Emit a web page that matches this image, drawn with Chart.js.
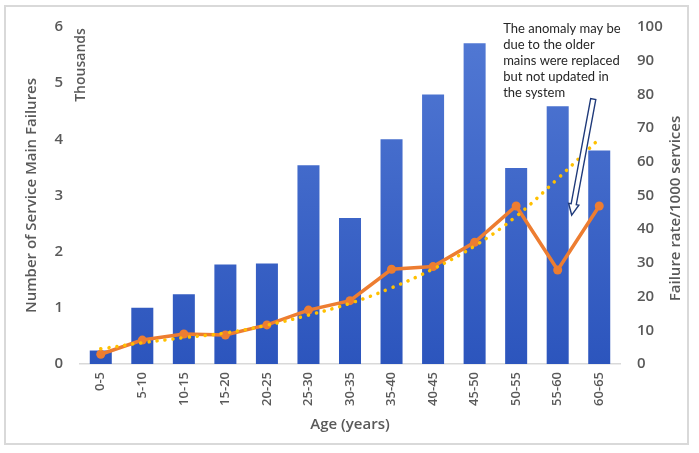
<!DOCTYPE html>
<html>
<head>
<meta charset="utf-8">
<script src="https://cdn.jsdelivr.net/npm/chart.js@4/dist/chart.umd.min.js"></script>
<style>
html,body{margin:0;padding:0;background:#fff;}
#wrap{width:699px;height:453px;}
</style>
</head>
<body>
<div id="wrap"><canvas id="c" width="699" height="453"></canvas></div>
<script>
// ---- data ----
const categories = ['0-5','5-10','10-15','15-20','20-25','25-30','30-35','35-40','40-45','45-50','50-55','55-60','60-65'];
const failuresThousands = [0.24, 1.0, 1.24, 1.77, 1.79, 3.54, 2.6, 4.0, 4.8, 5.71, 3.49, 4.59, 3.8];
const failureRate = [2.9, 7.1, 8.9, 8.6, 11.6, 16, 18.8, 28.1, 28.9, 36.1, 46.9, 27.9, 46.9];
const trendRate = [4.5, 6.3, 7.8, 9.2, 11.5, 14.5, 18, 22.6, 28.2, 35, 43.8, 55, 66.8];
const leftTicks = [0, 1, 2, 3, 4, 5, 6];
const rightTicks = [0, 10, 20, 30, 40, 50, 60, 70, 80, 90, 100];
const noteLines = ['The anomaly may be', 'due to the older', 'mains were replaced', 'but not updated in', 'the system'];

const grey = '#595959';
const FAM = '"Open Sans", sans-serif';
const tickFont = {family: FAM, size: 15, weight: '600'};

function barGradient(ctx) {
  const chart = ctx.chart;
  const a = chart.chartArea;
  if (!a) return '#3c63c8';
  const g = chart.ctx.createLinearGradient(0, a.top, 0, a.bottom);
  g.addColorStop(0, '#5279d4');
  g.addColorStop(1, '#2c55bd');
  return g;
}

const decor = {
  id: 'decor',
  beforeDraw(chart) {
    const c = chart.ctx;
    c.save();
    c.fillStyle = '#fff';
    c.fillRect(0, 0, chart.width, chart.height);
    c.strokeStyle = '#d9d9d9';
    c.lineWidth = 2;
    c.strokeRect(5, 6, 683, 438);
    c.restore();
  },
  afterDraw(chart) {
    const c = chart.ctx;
    const x = chart.scales.x, y1 = chart.scales.y1, y = chart.scales.y;
    c.save();
    // "Thousands" display-unit label
    c.fillStyle = grey;
    c.font = '600 14px ' + FAM;
    c.textAlign = 'center';
    c.textBaseline = 'middle';
    c.translate(y.right + 1, y.getPixelForValue(6) + 38);
    c.rotate(-Math.PI / 2);
    c.fillText('Thousands', 0, 0);
    c.restore();

    // right axis title (reads bottom to top)
    c.save();
    c.fillStyle = grey;
    c.font = '600 15px ' + FAM;
    c.textAlign = 'center';
    c.textBaseline = 'middle';
    c.translate(676, (y1.top + y1.bottom) / 2 + 13);
    c.rotate(-Math.PI / 2);
    c.fillText('Failure rate/1000 services', 0, 0);
    c.restore();

    // note text
    c.save();
    c.fillStyle = '#262626';
    c.font = '13px Lato, sans-serif';
    c.textAlign = 'left';
    c.textBaseline = 'middle';
    const tx = x.getPixelForValue(10) - 13;
    noteLines.forEach((t, i) => c.fillText(t, tx, 29 + i * 16));
    c.restore();

    // hollow arrow
    const tail = {x: x.getPixelForValue(12) - 6, y: y1.getPixelForValue(78.6)};
    const tip = {x: x.getPixelForValue(11) + 14, y: y1.getPixelForValue(44.2)};
    const dx = tip.x - tail.x, dy = tip.y - tail.y;
    const L = Math.hypot(dx, dy);
    const ux = dx / L, uy = dy / L;
    const nx = -uy, ny = ux;
    const sw = 2.6, hw = 5.2, hl = 11;
    const bx = tip.x - ux * hl, by = tip.y - uy * hl;
    c.save();
    c.beginPath();
    c.moveTo(tail.x + nx * sw, tail.y + ny * sw);
    c.lineTo(bx + nx * sw, by + ny * sw);
    c.lineTo(bx + nx * hw, by + ny * hw);
    c.lineTo(tip.x, tip.y);
    c.lineTo(bx - nx * hw, by - ny * hw);
    c.lineTo(bx - nx * sw, by - ny * sw);
    c.lineTo(tail.x - nx * sw, tail.y - ny * sw);
    c.closePath();
    c.fillStyle = '#ffffff';
    c.fill();
    c.strokeStyle = '#1f3a7a';
    c.lineWidth = 1.4;
    c.stroke();
    c.restore();
  }
};

new Chart(document.getElementById('c'), {
  data: {
    labels: categories,
    datasets: [
      {
        type: 'line',
        label: 'Trend',
        data: trendRate,
        yAxisID: 'y1',
        borderColor: '#ffc000',
        borderWidth: 3.5,
        borderDash: [0.1, 8],
        borderCapStyle: 'round',
        pointRadius: 0,
        tension: 0.4,
        fill: false,
        order: 0
      },
      {
        type: 'line',
        label: 'Failure rate',
        data: failureRate,
        yAxisID: 'y1',
        borderColor: '#ed7d31',
        backgroundColor: '#ed7d31',
        borderWidth: 3.5,
        pointRadius: 4.5,
        pointBorderWidth: 0,
        pointBackgroundColor: '#ed7d31',
        pointBorderColor: '#ed7d31',
        tension: 0,
        fill: false,
        order: 1
      },
      {
        type: 'bar',
        label: 'Failures',
        data: failuresThousands,
        yAxisID: 'y',
        backgroundColor: barGradient,
        barPercentage: 0.53,
        categoryPercentage: 1,
        order: 2
      }
    ]
  },
  options: {
    responsive: false,
    animation: false,
    events: [],
    layout: {padding: {top: 27, left: 0, right: 0, bottom: 0}},
    plugins: {legend: {display: false}, tooltip: {enabled: false}},
    scales: {
      x: {
        offset: true,
        grid: {display: false, drawTicks: false},
        border: {display: true, color: '#d9d9d9', width: 1.5},
        ticks: {
          color: grey,
          font: {family: FAM, size: 13, weight: '600'},
          minRotation: 90,
          maxRotation: 90,
          padding: 8,
          autoSkip: false
        },
        title: {
          display: true,
          text: 'Age (years)',
          color: grey,
          font: {family: FAM, size: 15, weight: '600'},
          padding: {top: 0, bottom: 19}
        },
        afterFit(s) { s.height = 89; }
      },
      y: {
        position: 'left',
        min: 0,
        max: 6,
        afterBuildTicks(s) { s.ticks = leftTicks.map(v => ({value: v})); },
        grid: {display: false, drawTicks: false},
        border: {display: false},
        ticks: {color: grey, font: tickFont, padding: 17},
        title: {
          display: true,
          text: 'Number of Service Main Failures',
          color: grey,
          font: {family: FAM, size: 15, weight: '600'},
          padding: {top: 23, bottom: 0}
        },
        afterFit(s) { s.width = 80; }
      },
      y1: {
        position: 'right',
        min: 0,
        max: 100,
        afterBuildTicks(s) { s.ticks = rightTicks.map(v => ({value: v})); },
        grid: {display: false, drawTicks: false},
        border: {display: false},
        ticks: {color: grey, font: tickFont, padding: 17},
        afterFit(s) { s.width = 79; }
      }
    }
  },
  plugins: [decor]
});
</script>
</body>
</html>
